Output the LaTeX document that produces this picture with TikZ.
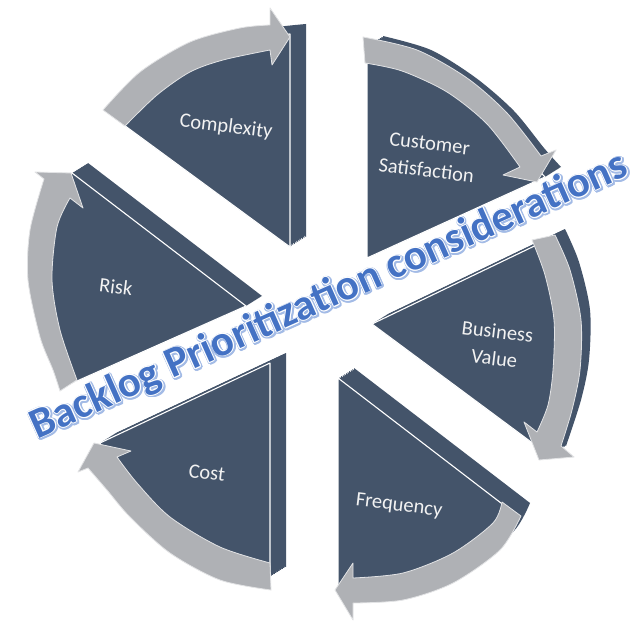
\documentclass[tikz,border=0pt]{standalone}
\usepackage{fontspec}
\setmainfont{Carlito}
\usetikzlibrary{calc}
\definecolor{slate}{HTML}{44546A}
\definecolor{arrgray}{HTML}{AFB1B5}
\definecolor{arredge}{HTML}{E2E3E5}
\definecolor{ttlblue}{HTML}{4472C4}
\definecolor{ttlpale}{HTML}{A3BBE6}
\definecolor{lblcol}{HTML}{F2F2F2}
\newcommand\ttltext{Backlog Prioritization considerations}
% wedge faces (pixel coordinates, y downwards)
\def\Wa{(290,247) -- plot[smooth] coordinates {(113,117) (140,86) (190,55) (240,40) (290,34)} -- cycle}
\def\Wb{(367,258) -- plot[smooth] coordinates {(367,46) (415,60) (460,88) (498,121) (528,158) (545,177)} -- cycle}
\def\Wc{(372,324) -- plot[smooth] coordinates {(549,239) (563,272) (574,320) (573,370) (565,410) (550,456)} -- cycle}
\def\Wd{(338,378) -- plot[smooth] coordinates {(514,513) (497,542) (452,573) (403,589) (353,590) (338,586)} -- cycle}
\def\We{(270,363) -- plot[smooth] coordinates {(270,577) (220,565) (170,537) (133,502) (112,473) (100,443)} -- cycle}
\def\Wf{(72,173) -- (246,306) -- plot[smooth] coordinates {(68,385) (60,370) (49,334) (41,280) (43,230) (55,195) (72,173)} -- cycle}
\begin{document}
\begin{tikzpicture}[x=1pt,y=-1pt,
  face/.style={fill=slate, draw=white, line width=1.1pt, line join=round},
  side/.style={fill=slate},
  arr/.style={fill=arrgray, draw=arredge, line width=0.8pt, line join=round},
  lbl/.style={text=lblcol, font=\fontsize{20.5}{27}\selectfont, rotate=-7, align=center, inner sep=0pt},
  ttl/.style={anchor=base, rotate=24, font=\bfseries\fontsize{43}{50}\selectfont, inner sep=0pt}]
\fill[white] (0,0) rectangle (639,639);
\useasboundingbox (0,0) rectangle (639,639);
% extruded sides
\foreach \t in {0,1,...,10}{
  \fill[side, shift={(1.6*\t,-1*\t)}] \Wa;
  \fill[side, shift={(1.6*\t,-1*\t)}] \Wb;
  \fill[side, shift={(1.6*\t,-1*\t)}] \Wc;
  \fill[side, shift={(1.6*\t,-1*\t)}] \Wd;
  \fill[side, shift={(1.6*\t,-1*\t)}] \We;
  \fill[side, shift={(1.6*\t,-1*\t)}] \Wf;
}
% front faces
\filldraw[face] \Wa;
\filldraw[face] \Wb;
\filldraw[face] \Wc;
\filldraw[face] \Wd;
\filldraw[face] \We;
\filldraw[face] \Wf;
% curved arrows
\filldraw[arr] (125,126) -- plot[smooth] coordinates {(103,110) (140,72) (190,42) (240,28) (270,25)} -- (270,8) -- (290,37) -- (272,65) -- plot[smooth] coordinates {(270,50) (223,60) (190,72) (157,95) (125,126)} -- cycle;
\filldraw[arr] (365,63) -- plot[smooth] coordinates {(363,37) (417,50) (467,78) (507,113) (541,156)} -- (556,150) -- (537,182) -- (503,175) -- plot[smooth] coordinates {(520,167) (487,124) (447,92) (402,71) (365,63)} -- cycle;
\filldraw[arr] (532,240) -- plot[smooth] coordinates {(555,235) (570,270) (581,320) (580,370) (572,410) (561,446)} -- (574,457) -- (539,460) -- (524,422) -- plot[smooth] coordinates {(537,432) (548,405) (553,370) (554,320) (545,275) (532,240)} -- cycle;
\filldraw[arr] (502,502) -- plot[smooth] coordinates {(521,516) (500,550) (453,583) (403,600) (353,603)} -- (353,620) -- (335,590) -- (353,563) -- plot[smooth] coordinates {(353,578) (403,573) (453,553) (493,523) (502,502)} -- cycle;
\filldraw[arr] (270,563) -- plot[smooth] coordinates {(271,590) (220,580) (170,553) (130,517) (107,490) (88,468)} -- (78,472) -- (94,443) -- (131,451) -- plot[smooth] coordinates {(117,457) (137,483) (170,517) (220,547) (270,563)} -- cycle;
\filldraw[arr] (77,380) -- plot[smooth] coordinates {(60,391) (53,370) (40,337) (28,280) (30,230) (44,179)} -- (35,172) -- (71,173) -- (83,208) -- plot[smooth] coordinates {(70,198) (57,227) (52,280) (60,330) (77,380)} -- cycle;
% labels
\node[lbl] (complexity) at (226,127) {Complexity};
\node[lbl] (custsat) at (428,157) {Customer\\Satisfaction};
\node[lbl] (bizval) at (496,345) {Business\\Value};
\node[lbl] (frequency) at (399,506) {Frequency};
\node[lbl] (cost) at (207,473) {Cost};
\node[lbl] (risk) at (116,287) {Risk};
% title with a pale outline and a thin white rim
\coordinate (tc) at (334,307);
\foreach \a in {0,30,...,330}
  \node[ttl, text=ttlpale] (ts\a) at ($(tc)+(0.9,0.9)+(\a:1.9)$) {\ttltext};
\foreach \a in {0,45,...,315}
  \node[ttl, text=white] (tw\a) at ($(tc)+(\a:0.9)$) {\ttltext};
\node[ttl, text=ttlblue] (title) at (tc) {\ttltext};
\end{tikzpicture}
\end{document}
